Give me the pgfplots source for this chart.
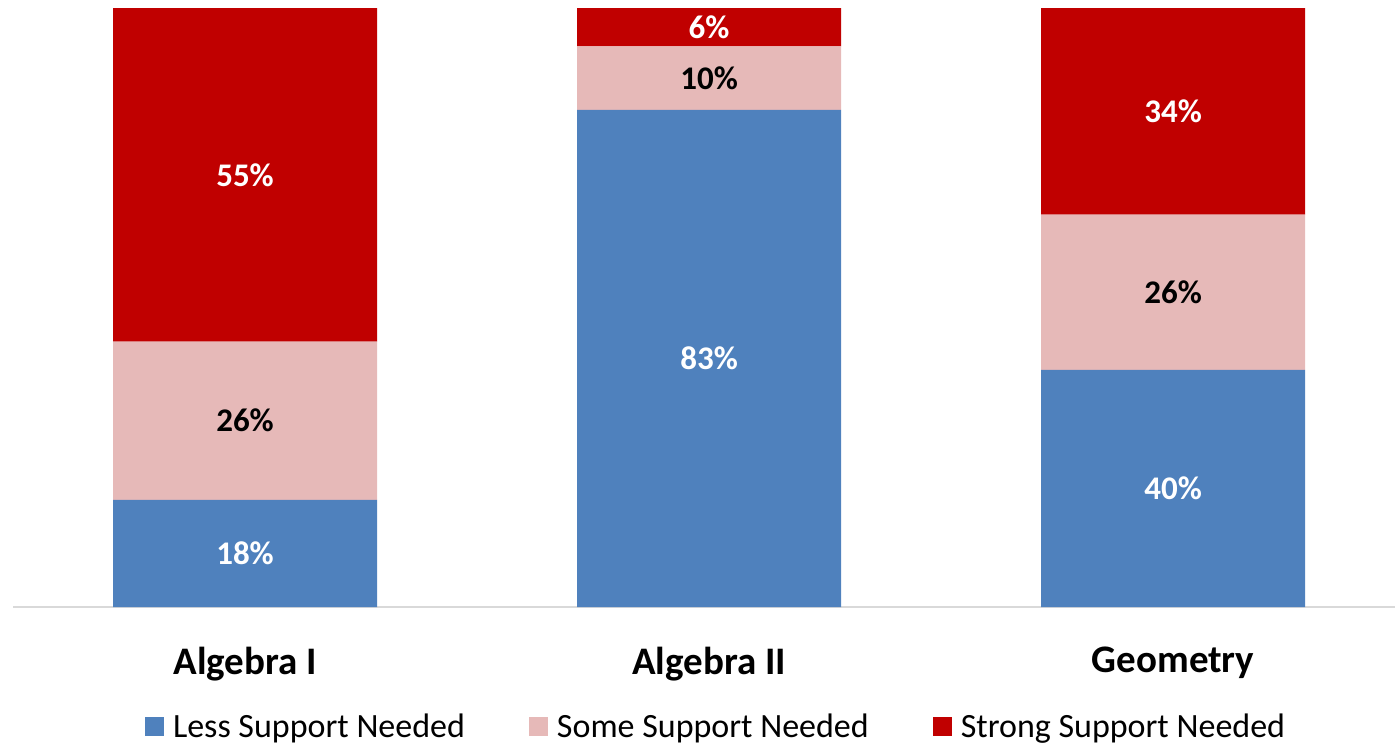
\documentclass[border=0pt]{standalone}
\usepackage{pgfplots}
\pgfplotsset{compat=1.18}
\usepackage{fontspec}
\setmainfont{Carlito}
\definecolor{lessblue}{HTML}{4F81BD}
\definecolor{somepink}{HTML}{E6B9B8}
\definecolor{strongred}{HTML}{C00000}
\definecolor{axisgray}{HTML}{D9D9D9}
\pgfplotsset{
  frame/.style={scale only axis, width=691pt, height=299.5pt,
    xmin=-0.5, xmax=2.478, ymin=0, ymax=100},
}
\begin{document}
\begin{tikzpicture}
\useasboundingbox (-6.5pt,-69.5pt) rectangle (691pt,303.5pt);
\begin{axis}[
  frame,
  ybar stacked, bar width=132pt,
  xtick={0,1,2},
  xticklabels={Algebra I, Algebra II, Geometry},
  xticklabel style={font=\fontsize{19.5}{22}\selectfont\bfseries, yshift=-16.5pt},
  major tick length=0pt,
  axis x line*=bottom,
  hide y axis,
  axis line style={axisgray, line width=1pt},
  legend columns=3,
  legend style={at={(0.508,-0.2)}, anchor=center, draw=none,
    font=\fontsize{17}{19}\selectfont,
    nodes={inner xsep=0pt},
    /tikz/every odd column/.append style={column sep=4.5pt},
    /tikz/every even column/.append style={column sep=32pt}},
  legend image code/.code={\fill[#1] (0pt,-4.75pt) rectangle (9.5pt,4.75pt);},
]
\addplot[fill=lessblue, draw=none] coordinates {(0,17.9) (1,83.0) (2,39.6)};
\addlegendentry{Less Support Needed}
\addplot[fill=somepink, draw=none] coordinates {(0,26.4) (1,10.6) (2,25.9)};
\addlegendentry{Some Support Needed}
\addplot[fill=strongred, draw=none] coordinates {(0,55.7) (1,6.4) (2,34.5)};
\addlegendentry{Strong Support Needed}
\end{axis}
% value labels, centred in each segment
\begin{axis}[
  frame, hide axis,
  point meta=explicit symbolic,
  nodes near coords,
  nodes near coords align=center,
  every node near coord/.append style={font=\fontsize{16.5}{18}\selectfont\bfseries, anchor=center},
]
\addplot[draw=none, mark=none, only marks, every node near coord/.append style={white}] coordinates {
  (0,8.95) [18\%]
  (1,41.5) [83\%]
  (2,19.8) [40\%]
};
\addplot[draw=none, mark=none, only marks, every node near coord/.append style={black}] coordinates {
  (0,31.1) [26\%]
  (1,88.3) [10\%]
  (2,52.55) [26\%]
};
\addplot[draw=none, mark=none, only marks, every node near coord/.append style={white}] coordinates {
  (0,72.15) [55\%]
  (1,96.8) [6\%]
  (2,82.75) [34\%]
};
\end{axis}
\end{tikzpicture}
\end{document}
